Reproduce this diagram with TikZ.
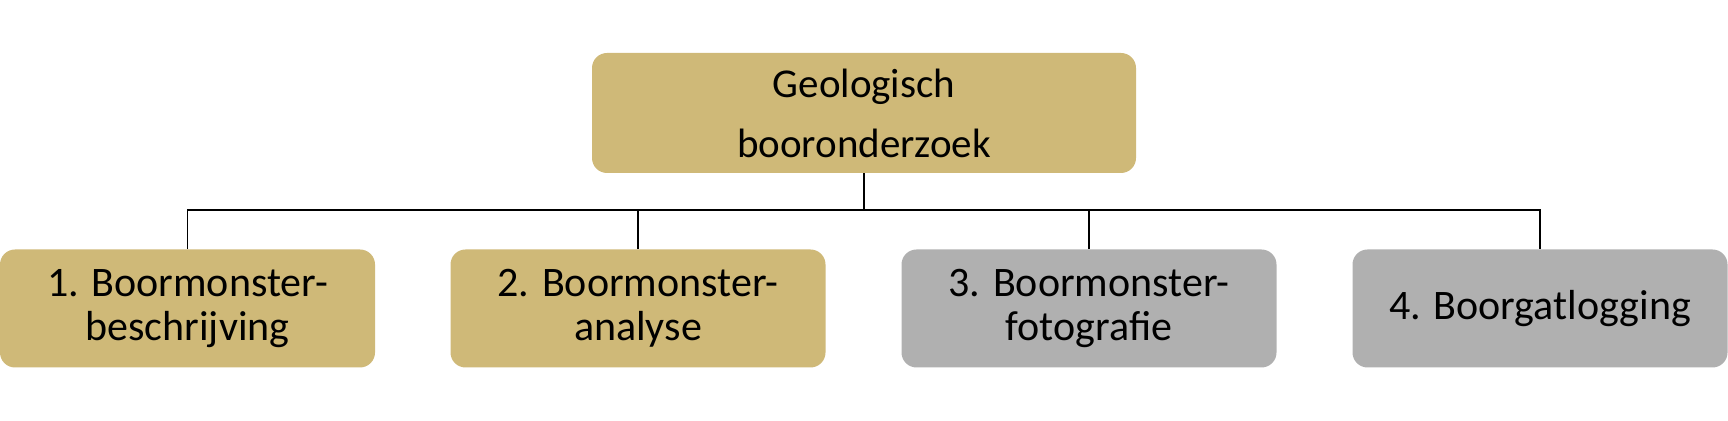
\documentclass[tikz,border=0pt]{standalone}
\usepackage{fontspec}
\setmainfont{Carlito}
\definecolor{sand}{RGB}{207,185,120}
\definecolor{stone}{RGB}{176,176,176}
\tikzset{
  box/.style={rounded corners=7.5pt, minimum height=59pt, minimum width=187.5pt,
    align=center, inner sep=0pt, font=\fontsize{21}{22}\selectfont},
  goldbox/.style={box, fill=sand},
  greybox/.style={box, fill=stone},
  link/.style={line width=0.9pt}
}
\begin{document}
\begin{tikzpicture}
 \useasboundingbox (0,0) rectangle (864pt,-210.5pt);

 \node[goldbox, minimum width=272pt, minimum height=60pt, font=\fontsize{20.5}{30}\selectfont]
   (top) at (432pt,-56.5pt) {Geologisch\\booronderzoek};

 \node[goldbox] (b1) at (93.75pt,-154.25pt) {1. Boormonster-\\beschrijving};
 \node[goldbox] (b2) at (319pt,-154.25pt) {2. Boormonster-\\analyse};
 \node[greybox] (b3) at (544.5pt,-154.25pt) {3. Boormonster-\\fotografie};
 \node[greybox] (b4) at (770pt,-154.25pt) {4. Boorgatlogging};

 \coordinate (bus) at (432pt,-105pt);
 \draw[link] (top.south) -- (bus);
 \draw[link] (b1.north) -- (b1.north |- bus) -- (b4.north |- bus) -- (b4.north);
 \draw[link] (b2.north) -- (b2.north |- bus);
 \draw[link] (b3.north) -- (b3.north |- bus);
\end{tikzpicture}
\end{document}
